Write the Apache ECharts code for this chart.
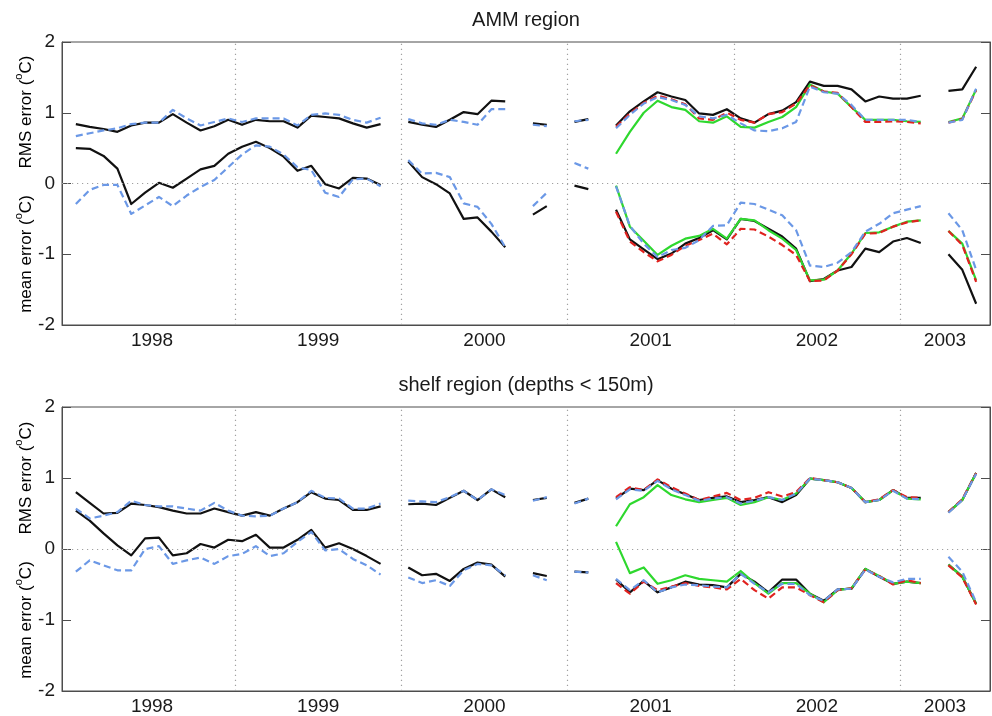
<!DOCTYPE html>
<html>
<head>
<meta charset="utf-8">
<script src="https://cdn.jsdelivr.net/npm/echarts@6/dist/echarts.min.js"></script>
<style>
  html, body { margin: 0; padding: 0; background: #ffffff; }
  #chart { width: 992px; height: 716px; }
</style>
</head>
<body>
<div id="chart"></div>
<script>
// Monthly validation statistics, Jan 1998 (index 0) to Jun 2003 (index 65).
// null marks months without observations.
const N = null;
const noRun = n => Array(n).fill(null);   // months before the assimilation runs start

// ---- AMM region ----
const ammRmsCtrl = [0.84,0.80,0.77,0.73,0.82,0.86,0.86,0.98,0.86,0.75,0.81,0.90,0.83,0.90,0.88,0.88,0.79,0.96,0.94,0.92,0.85,0.79,0.84, N,
  0.87,0.83,0.80,0.90,1.01,0.98,1.17,1.16, N, 0.85,0.83, N, 0.87,0.91, N,
  0.82,1.02,1.16,1.29,1.23,1.18,0.99,0.97,1.05,0.92,0.86,0.98,1.03,1.15,1.44,1.38,1.38,1.33,1.16,1.23,1.20,1.20,1.24, N, 1.31,1.33,1.65];
const ammRmsBlue = [0.67,0.71,0.75,0.78,0.84,0.86,0.86,1.04,0.92,0.82,0.87,0.92,0.87,0.92,0.92,0.92,0.82,0.97,0.99,0.97,0.90,0.86,0.93, N,
  0.91,0.85,0.83,0.90,0.87,0.83,1.05,1.05, N, 0.83,0.81, N, 0.88,0.90, N,
  0.78,0.97,1.13,1.22,1.18,1.11,0.95,0.92,0.97,0.85,0.75,0.74,0.78,0.87,1.37,1.29,1.27,1.11,0.90,0.90,0.90,0.90,0.87, N, 0.86,0.90,1.34];
const ammRmsGreen = noRun(39).concat([0.42,0.73,1.00,1.17,1.08,1.04,0.88,0.86,0.95,0.80,0.79,0.87,0.94,1.08,1.40,1.30,1.27,1.08,0.90,0.90,0.90,0.88,0.87, N, 0.87,0.92,1.33]);
const ammRmsRed = noRun(39).concat([0.80,0.99,1.14,1.24,1.19,1.12,0.92,0.90,1.00,0.90,0.86,0.98,1.01,1.13,1.39,1.30,1.28,1.08,0.87,0.87,0.88,0.87,0.85, N, 0.86,0.91,1.32]);

const ammMeanCtrl = [0.50,0.49,0.39,0.21,-0.29,-0.13,0.01,-0.06,0.07,0.20,0.25,0.42,0.52,0.59,0.50,0.38,0.18,0.25,-0.01,-0.07,0.08,0.07,-0.02, N,
  0.31,0.09,-0.01,-0.14,-0.50,-0.48,-0.68,-0.90, N, -0.44,-0.32, N, -0.03,-0.08, N,
  -0.37,-0.79,-0.93,-1.07,-0.99,-0.85,-0.77,-0.66,-0.79,-0.50,-0.53,-0.64,-0.75,-0.92,-1.38,-1.35,-1.23,-1.18,-0.92,-0.97,-0.82,-0.77,-0.84, N, -1.00,-1.22,-1.70];
const ammMeanBlue = [-0.29,-0.09,-0.02,-0.02,-0.43,-0.31,-0.19,-0.32,-0.17,-0.05,0.05,0.23,0.41,0.54,0.52,0.41,0.23,0.19,-0.13,-0.19,0.06,0.07,-0.04, N,
  0.33,0.14,0.15,0.09,-0.28,-0.33,-0.57,-0.90, N, -0.32,-0.13, N, 0.29,0.21, N,
  -0.04,-0.60,-0.85,-1.04,-0.94,-0.91,-0.80,-0.60,-0.59,-0.27,-0.29,-0.37,-0.45,-0.66,-1.16,-1.18,-1.12,-0.97,-0.68,-0.57,-0.42,-0.37,-0.32, N, -0.42,-0.66,-1.22];
const ammMeanGreen = noRun(39).concat([-0.03,-0.61,-0.81,-1.01,-0.88,-0.78,-0.74,-0.64,-0.78,-0.50,-0.52,-0.66,-0.78,-0.94,-1.37,-1.36,-1.23,-0.99,-0.70,-0.69,-0.61,-0.54,-0.52, N, -0.67,-0.85,-1.37]);
const ammMeanRed = noRun(39).concat([-0.40,-0.82,-0.97,-1.10,-1.01,-0.88,-0.80,-0.71,-0.86,-0.64,-0.65,-0.75,-0.87,-1.01,-1.38,-1.37,-1.23,-1.00,-0.71,-0.70,-0.61,-0.55,-0.52, N, -0.67,-0.87,-1.39]);

// ---- shelf region (depths < 150m) ----
const shelfRmsCtrl = [0.80,0.65,0.50,0.51,0.64,0.62,0.59,0.54,0.50,0.50,0.57,0.52,0.47,0.52,0.47,0.57,0.66,0.80,0.71,0.69,0.55,0.55,0.60, N,
  0.63,0.64,0.62,0.72,0.82,0.69,0.84,0.73, N, 0.69,0.72, N, 0.65,0.71, N,
  0.71,0.85,0.83,0.97,0.85,0.77,0.69,0.72,0.74,0.66,0.69,0.73,0.66,0.76,0.99,0.97,0.94,0.86,0.66,0.69,0.83,0.72,0.72, N, 0.52,0.69,1.07];
const shelfRmsBlue = [0.57,0.43,0.47,0.52,0.68,0.62,0.60,0.60,0.57,0.54,0.65,0.54,0.47,0.46,0.47,0.57,0.66,0.82,0.72,0.71,0.57,0.57,0.64, N,
  0.68,0.67,0.66,0.73,0.82,0.69,0.84,0.76, N, 0.68,0.73, N, 0.64,0.71, N,
  0.70,0.84,0.82,0.96,0.84,0.76,0.68,0.71,0.73,0.64,0.68,0.73,0.69,0.78,0.99,0.97,0.94,0.86,0.66,0.69,0.82,0.71,0.70, N, 0.51,0.69,1.06];
const shelfRmsGreen = noRun(39).concat([0.32,0.63,0.73,0.90,0.76,0.70,0.66,0.69,0.72,0.62,0.66,0.73,0.69,0.78,0.99,0.97,0.94,0.86,0.66,0.69,0.83,0.71,0.70, N, 0.52,0.69,1.07]);
const shelfRmsRed = noRun(39).concat([0.73,0.87,0.83,0.98,0.87,0.78,0.69,0.74,0.79,0.69,0.72,0.80,0.74,0.80,1.00,0.97,0.94,0.86,0.66,0.70,0.83,0.73,0.72, N, 0.52,0.70,1.07]);

const shelfMeanCtrl = [0.54,0.40,0.22,0.05,-0.09,0.15,0.16,-0.09,-0.06,0.07,0.02,0.13,0.11,0.20,0.02,0.02,0.13,0.27,0.02,0.08,0.00,-0.10,-0.21, N,
  -0.26,-0.37,-0.35,-0.45,-0.28,-0.19,-0.22,-0.39, N, -0.34,-0.38, N, -0.32,-0.33, N,
  -0.43,-0.61,-0.45,-0.61,-0.54,-0.46,-0.50,-0.51,-0.54,-0.35,-0.46,-0.61,-0.43,-0.43,-0.63,-0.73,-0.57,-0.56,-0.28,-0.39,-0.49,-0.46,-0.48, N, -0.22,-0.39,-0.77];
const shelfMeanBlue = [-0.32,-0.16,-0.23,-0.30,-0.30,0.00,0.04,-0.21,-0.16,-0.12,-0.21,-0.10,-0.07,0.04,-0.10,-0.06,0.10,0.24,-0.02,0.00,-0.14,-0.23,-0.36, N,
  -0.40,-0.48,-0.44,-0.52,-0.30,-0.21,-0.23,-0.37, N, -0.37,-0.44, N, -0.32,-0.33, N,
  -0.42,-0.58,-0.44,-0.61,-0.54,-0.50,-0.51,-0.53,-0.54,-0.35,-0.49,-0.61,-0.49,-0.49,-0.65,-0.73,-0.57,-0.56,-0.29,-0.39,-0.47,-0.42,-0.42, N, -0.11,-0.32,-0.75];
const shelfMeanGreen = noRun(39).concat([0.10,-0.34,-0.26,-0.49,-0.44,-0.37,-0.42,-0.44,-0.46,-0.31,-0.48,-0.63,-0.48,-0.48,-0.63,-0.75,-0.58,-0.55,-0.28,-0.38,-0.49,-0.46,-0.48, N, -0.22,-0.39,-0.77]);
const shelfMeanRed = noRun(39).concat([-0.48,-0.63,-0.46,-0.58,-0.53,-0.48,-0.52,-0.54,-0.57,-0.42,-0.58,-0.70,-0.54,-0.54,-0.65,-0.75,-0.58,-0.55,-0.29,-0.38,-0.50,-0.44,-0.48, N, -0.23,-0.40,-0.78]);

// ---- axes ----
const yearLabels   = ['1998', '1999', '2000', '2001', '2002', '2003'];
const yearLabelPos = [6, 18, 30, 42, 54, 63.25];   // months since Jan 1998
const yearEdges    = [12, 24, 36, 48, 60];
const panelTitles  = ['AMM region', 'shelf region (depths < 150m)'];

const FONT = 'Liberation Sans, Arial, Helvetica, sans-serif';
const TEXT = '#1a1a1a';
const FRAME = '#4d4d4d';
const COLORS = { ctrl: '#111111', blue: '#6b98e6', green: '#2ed82e', red: '#e0221f' };

const grids = [
  { left: 62, top: 42,  width: 928, height: 283 },
  { left: 62, top: 407, width: 928, height: 284 }
];

const toPairs = vals => vals.map((v, k) => [k + 0.5, v]);

function lineSeries(name, gridIdx, vals, color, dashed, z) {
  return {
    name: name,
    type: 'line',
    xAxisIndex: gridIdx,
    yAxisIndex: gridIdx * 2,
    data: toPairs(vals),
    showSymbol: false,
    symbol: 'none',
    connectNulls: false,
    animation: false,
    z: z,
    lineStyle: { color: color, width: 2.2, type: dashed ? [7, 4] : 'solid', cap: 'butt', join: 'round' }
  };
}

function guideSeries(gridIdx) {
  // empty carrier for the dotted year boundaries and the zero line
  return {
    type: 'line',
    xAxisIndex: gridIdx,
    yAxisIndex: gridIdx * 2,
    data: [],
    silent: true,
    animation: false,
    z: 1,
    markLine: {
      silent: true,
      symbol: ['none', 'none'],
      label: { show: false },
      animation: false,
      lineStyle: { color: '#a0a0a0', width: 1.2, type: [1.2, 3.8] },
      emphasis: { disabled: true },
      data: yearEdges.map(x => ({ xAxis: x })).concat([{ yAxis: 0 }])
    }
  };
}

const panels = [
  [ammRmsCtrl, ammRmsBlue, ammRmsGreen, ammRmsRed, ammMeanCtrl, ammMeanBlue, ammMeanGreen, ammMeanRed],
  [shelfRmsCtrl, shelfRmsBlue, shelfRmsGreen, shelfRmsRed, shelfMeanCtrl, shelfMeanBlue, shelfMeanGreen, shelfMeanRed]
];

const series = [];
const xAxes = [];
const yAxes = [];
panels.forEach((p, g) => {
  series.push(guideSeries(g));
  series.push(lineSeries('control rms', g, p[0], COLORS.ctrl, false, 2));
  series.push(lineSeries('control mean', g, p[4], COLORS.ctrl, false, 2));
  series.push(lineSeries('run B rms', g, p[2], COLORS.green, false, 3));
  series.push(lineSeries('run B mean', g, p[6], COLORS.green, false, 3));
  series.push(lineSeries('run C rms', g, p[3], COLORS.red, true, 4));
  series.push(lineSeries('run C mean', g, p[7], COLORS.red, true, 4));
  series.push(lineSeries('run A rms', g, p[1], COLORS.blue, true, 5));
  series.push(lineSeries('run A mean', g, p[5], COLORS.blue, true, 5));

  xAxes.push({
    type: 'value', gridIndex: g, min: -0.5, max: 66.5,
    axisLine: { show: true, onZero: false, lineStyle: { color: FRAME, width: 1 } },
    axisTick: { show: false },
    splitLine: { show: false },
    axisLabel: {
      customValues: yearLabelPos,
      formatter: v => yearLabels[yearLabelPos.indexOf(v)] || '',
      margin: 6, color: TEXT, fontFamily: FONT, fontSize: 19
    }
  });
  // left axis with labels
  yAxes.push({
    type: 'value', gridIndex: g, min: -2, max: 2, interval: 1, position: 'left',
    axisLine: { show: true, onZero: false, lineStyle: { color: FRAME, width: 1 } },
    axisTick: { show: true, inside: true, length: 9, lineStyle: { color: FRAME } },
    splitLine: { show: false },
    axisLabel: { margin: 7, color: TEXT, fontFamily: FONT, fontSize: 19 }
  });
  // right axis: inward ticks only
  yAxes.push({
    type: 'value', gridIndex: g, min: -2, max: 2, interval: 1, position: 'right',
    axisLine: { show: true, onZero: false, lineStyle: { color: FRAME, width: 1 } },
    axisTick: { show: true, inside: true, length: 9, lineStyle: { color: FRAME } },
    splitLine: { show: false },
    axisLabel: { show: false }
  });
});

const chart = echarts.init(document.getElementById('chart'), null, { renderer: 'canvas' });

function yName(text, x, y) {
  return {
    type: 'text', x: x, y: y, rotation: Math.PI / 2, silent: true,
    style: {
      text: '{n|' + text + ' (}{s|o}{n|C)}',
      textAlign: 'center', textVerticalAlign: 'middle',
      rich: {
        n: { fontFamily: FONT, fontSize: 17, color: TEXT, lineHeight: 26, verticalAlign: 'middle' },
        s: { fontFamily: FONT, fontSize: 11, color: TEXT, lineHeight: 12, verticalAlign: 'top' }
      }
    }
  };
}

chart.setOption({
  backgroundColor: '#ffffff',
  animation: false,
  title: panelTitles.map((t, i) => ({
    text: t,
    left: grids[i].left + grids[i].width / 2,
    top: grids[i].top - 32,
    textAlign: 'center',
    padding: 0,
    textStyle: { fontFamily: FONT, fontSize: 20, fontWeight: 'normal', color: TEXT }
  })),
  grid: grids.map(gr => Object.assign({ show: true, borderColor: FRAME, borderWidth: 1, backgroundColor: 'transparent' }, gr)),
  xAxis: xAxes,
  yAxis: yAxes,
  series: series,
  graphic: [
    yName('RMS error', 26, 112),
    yName('mean error', 26, 254),
    yName('RMS error', 26, 478),
    yName('mean error', 26, 620)
  ]
});
</script>
</body>
</html>
